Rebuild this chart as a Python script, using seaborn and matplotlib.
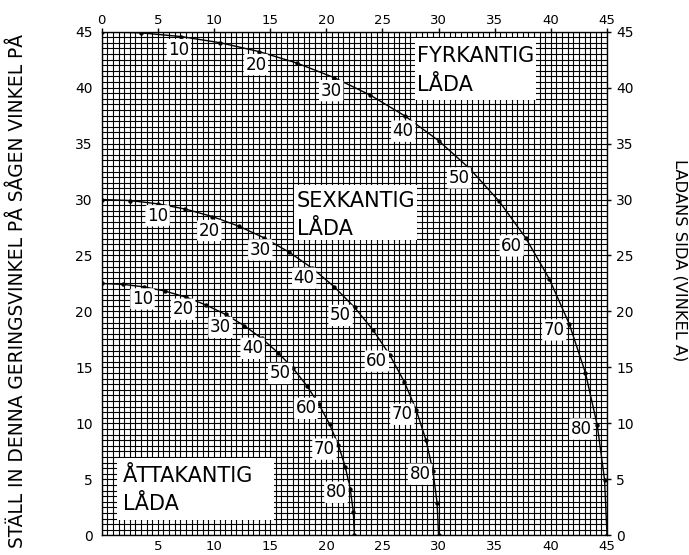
import pandas as pd
import seaborn as sns
import matplotlib.pyplot as plt
from matplotlib.ticker import MultipleLocator
from matplotlib.patches import Rectangle

# ladans sida (vinkel A), en punkt var 5:e grad
vinkel_a = [0, 5, 10, 15, 20, 25, 30, 35, 40, 45, 50, 55, 60, 65, 70, 75, 80, 85, 90]

# x = lutning på sågbladet, y = geringsvinkel
fyr_x = [0, 3.53, 7.05, 10.55, 14.00, 17.39, 20.70, 23.93, 27.03, 30.00,
         32.80, 35.40, 37.76, 39.86, 41.64, 43.08, 44.13, 44.78, 45.0]
fyr_y = [45.0, 44.89, 44.56, 44.01, 43.22, 42.19, 40.89, 39.32, 37.45, 35.26,
         32.73, 29.84, 26.57, 22.91, 18.88, 14.51, 9.85, 4.98, 0]

sex_x = [0, 2.50, 4.98, 7.44, 9.85, 12.20, 14.48, 16.67, 18.75, 20.70,
         22.52, 24.18, 25.66, 26.95, 28.02, 28.88, 29.50, 29.87, 30.0]
sex_y = [30.0, 29.91, 29.62, 29.15, 28.48, 27.62, 26.57, 25.31, 23.86, 22.21,
         20.36, 18.32, 16.10, 13.71, 11.17, 8.50, 5.73, 2.88, 0]

atta_x = [0, 1.91, 3.81, 5.68, 7.52, 9.31, 11.03, 12.68, 14.24, 15.70,
          17.05, 18.27, 19.35, 20.29, 21.08, 21.69, 22.14, 22.41, 22.5]
atta_y = [22.5, 22.42, 22.19, 21.81, 21.27, 20.57, 19.73, 18.74, 17.60, 16.32,
          14.91, 13.36, 11.70, 9.93, 8.06, 6.12, 4.11, 2.07, 0]

etikett_vinklar = [10, 20, 30, 40, 50, 60, 70, 80]
tick_varden = list(range(0, 46, 5))

# förskjutning (pixlar, x höger / y nedåt) för sifferetiketterna
fyr_off = [(-2, 13), (-3, 13), (-3, 13), (-2, 15), (-11, 9), (-14, 8), (-15, 6), (-16, 4)]
sex_off = [(0, 12), (-3, 14), (-4, 12), (-8, 10), (-14, 8), (-13, 6), (-14, 4), (-13, 3)]
atta_off = [(-2, 12), (-3, 12), (-5, 13), (-9, 10), (-13, 5), (-13, 4), (-14, 4), (-14, 3)]

lador = [
    ("fyr", fyr_x, fyr_y, fyr_off, ("FYRKANTIG", "LÅDA"),
     (27.9, 38.9, 10.8, 5.5), (28.1, 42.31, 39.73)),
    ("sex", sex_x, sex_y, sex_off, ("SEXKANTIG", "LÅDA"),
     (17.1, 26.4, 11.0, 4.9), (17.35, 29.36, 26.81)),
    ("atta", atta_x, atta_y, atta_off, ("ÅTTAKANTIG", "LÅDA"),
     (1.34, 1.4, 14.0, 5.54), (1.92, 4.74, 2.28)),
]

df = pd.concat([pd.DataFrame({"lada": namn, "vinkel": vinkel_a, "x": xs, "y": ys})
                for namn, xs, ys, *_ in lador], ignore_index=True)

sns.set_style("white")
plt.rcParams['font.family'] = ['DejaVu Sans']
plt.rcParams['text.color'] = 'black'

fig = plt.figure(figsize=(6.89, 5.55), dpi=100)
ax = fig.add_axes([0.1476, 0.0355, 0.7334, 0.9075])

sns.lineplot(data=df, x="x", y="y", units="lada", estimator=None, sort=False,
             color="black", lw=1.0, ax=ax, zorder=3)
sns.scatterplot(data=df, x="x", y="y", color="black", s=10, linewidth=0,
                ax=ax, zorder=4, legend=False)

for namn, xs, ys, offs, text, box, tpos in lador:
    sub = df[(df.lada == namn) & (df.vinkel.isin(etikett_vinklar))]
    for (_, row), (dx, dy) in zip(sub.iterrows(), offs):
        ax.annotate(str(row.vinkel), (row.x, row.y), xytext=(dx, -dy),
                    textcoords="offset pixels", ha="center", va="center",
                    fontsize=12, zorder=6, color="black",
                    bbox=dict(boxstyle="round,pad=0.1", fc="white", ec="none"))
    ax.add_patch(Rectangle(box[:2], box[2], box[3], fc="white", ec="none", zorder=5))
    ax.text(tpos[0], tpos[1], text[0], fontsize=15, va="baseline", ha="left",
            zorder=6, color="black")
    ax.text(tpos[0], tpos[2], text[1], fontsize=15, va="baseline", ha="left",
            zorder=6, color="black")

ax.set_xlim(0, 45)
ax.set_ylim(0, 45)
ax.set_xlabel("")
ax.set_ylabel("")
ax.set_xticks(tick_varden)
ax.set_yticks(tick_varden)
ax.xaxis.set_minor_locator(MultipleLocator(0.5))
ax.yaxis.set_minor_locator(MultipleLocator(0.5))
ax.grid(which="both", color="black", lw=0.8, zorder=0.5)
ax.set_axisbelow(True)
ax.tick_params(which="major", direction="out", length=3, width=1, color="black",
               labelcolor="black", top=True, right=True, labeltop=True,
               labelright=True, labelsize=10)
ax.tick_params(axis="x", pad=0.5, labelsize=9.5)
ax.tick_params(axis="y", pad=3.5)
ax.tick_params(which="minor", length=0)
ax.xaxis.get_major_ticks()[0].label1.set_visible(False)
for s in ax.spines.values():
    s.set_color("black")
    s.set_linewidth(1.0)

fig.text(0.0254, 0.4757, "STÄLL IN DENNA GERINGSVINKEL PÅ SÅGEN VINKEL PÅ",
         rotation=90, ha="center", va="center", fontsize=13.4, color="black")
fig.text(0.9865, 0.5315, "LADANS SIDA (VINKEL A)",
         rotation=-90, ha="center", va="center", fontsize=11.7, color="black")

fig.savefig("out.png", dpi=100)
